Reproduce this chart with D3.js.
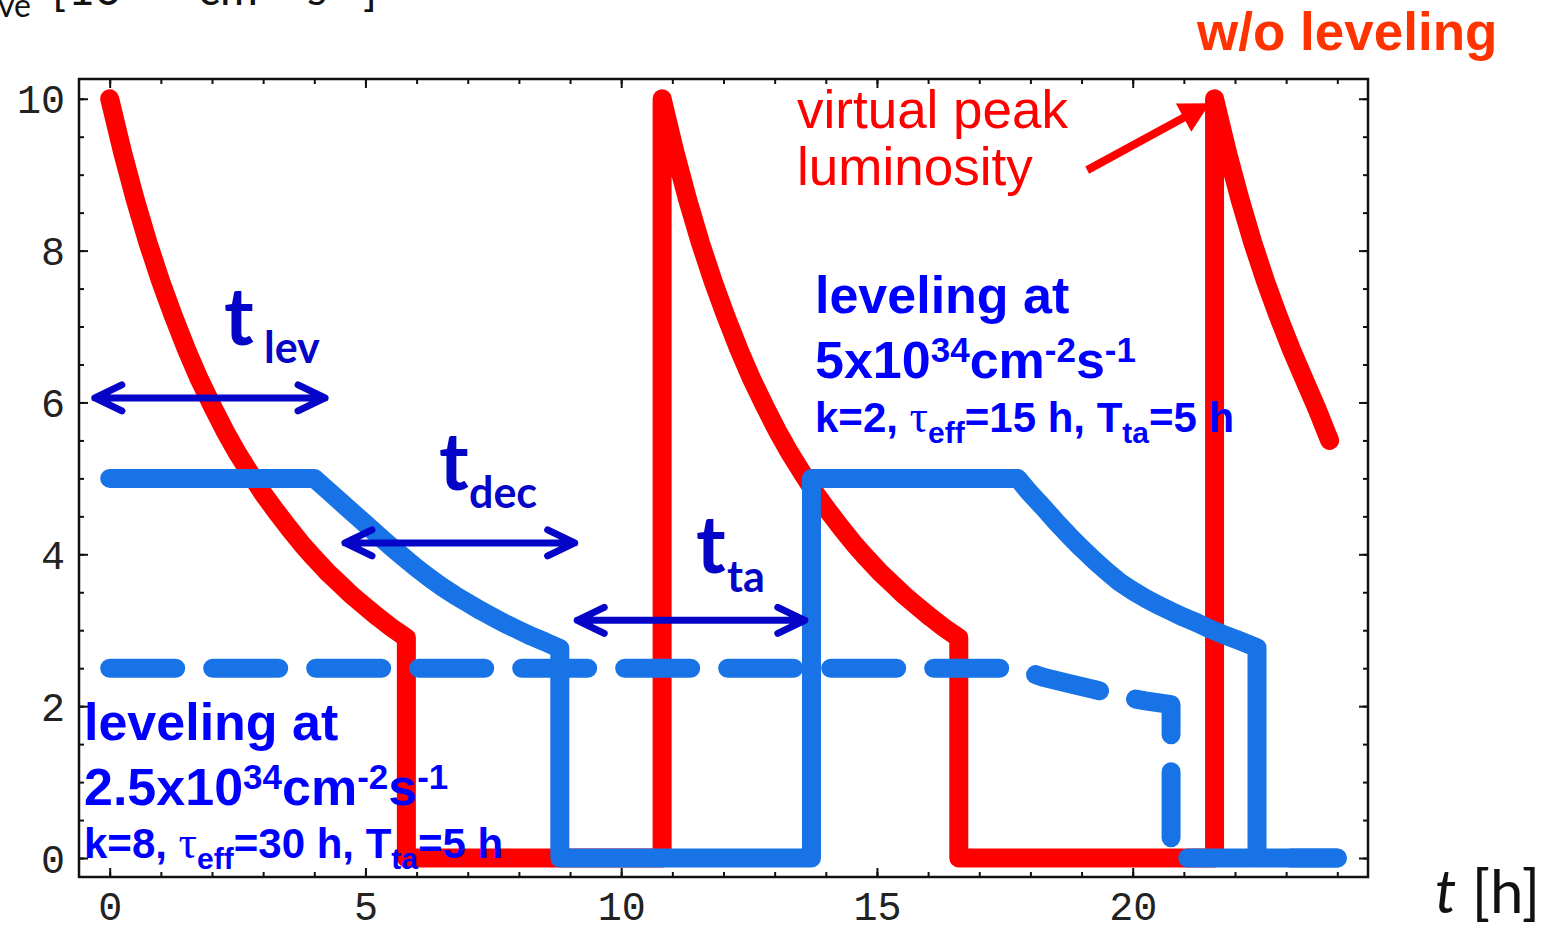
<!DOCTYPE html>
<html><head><meta charset="utf-8">
<script src="https://cdn.jsdelivr.net/npm/d3@7"></script>
<style>body{margin:0;background:#fff;} svg{display:block;}</style>
</head><body>
<svg id="c" width="1548" height="926"></svg>
<script>
// ---- data (t in hours, L in 1e34 cm^-2 s^-1) ----
const noLeveling = [
  [0,10],[0.25,9.30],[0.5,8.67],[0.75,8.10],[1,7.59],[1.25,7.13],[1.5,6.70],[1.75,6.31],[2,5.96],[2.25,5.63],[2.5,5.33],[2.75,5.06],
  [3,4.80],[3.25,4.57],[3.5,4.35],[3.75,4.14],[4,3.95],[4.25,3.77],[4.5,3.61],[4.75,3.45],[5,3.31],[5.25,3.17],[5.5,3.04],[5.8,2.90],[5.8,0],
  [10.8,0],[10.8,10],[11.05,9.30],[11.3,8.67],[11.55,8.10],[11.8,7.59],[12.05,7.13],[12.3,6.70],[12.55,6.31],[12.8,5.96],[13.05,5.63],[13.3,5.33],[13.55,5.06],
  [13.8,4.80],[14.05,4.57],[14.3,4.35],[14.55,4.14],[14.8,3.95],[15.05,3.77],[15.3,3.61],[15.55,3.45],[15.8,3.31],[16.05,3.17],[16.3,3.04],[16.6,2.90],[16.6,0],
  [21.6,0],[21.6,10],[21.85,9.30],[22.1,8.67],[22.35,8.10],[22.6,7.59],[22.85,7.13],[23.1,6.70],[23.35,6.31],[23.6,5.92],[23.85,5.5]
];
const leveling5 = [
  [0,5],[4,5],[4.25,4.85],[4.5,4.7],[4.75,4.55],[5,4.4],[5.25,4.25],[5.5,4.1],[5.75,3.96],[6,3.82],[6.25,3.69],[6.5,3.57],[6.75,3.46],
  [7,3.36],[7.25,3.26],[7.5,3.17],[7.75,3.08],[8,3.0],[8.25,2.92],[8.5,2.85],[8.8,2.76],[8.8,0],
  [13.72,0],[13.72,5],[17.75,5],[18,4.8],[18.25,4.62],[18.5,4.43],[18.75,4.25],[19,4.08],[19.25,3.92],[19.5,3.77],[19.75,3.63],
  [20,3.52],[20.25,3.42],[20.5,3.33],[20.75,3.25],[21,3.17],[21.25,3.1],[21.5,3.02],[21.75,2.95],[22.1,2.86],[22.43,2.77],[22.43,0],[24,0]
];
const leveling25 = [
  [0,2.5],[17.75,2.5],[18.25,2.38],[18.75,2.3],[19.25,2.22],[19.75,2.13],[20.25,2.07],[20.75,2.02],[20.75,0],[24,0]
];
const xMajorTicks = [0,5,10,15,20];
const xMinorTicks = [0,1,2,3,4,5,6,7,8,9,10,11,12,13,14,15,16,17,18,19,20,21,22,23,24];
const yMajorTicks = [0,2,4,6,8,10];
const yMinorTicks = [0,0.5,1,1.5,2,2.5,3,3.5,4,4.5,5,5.5,6,6.5,7,7.5,8,8.5,9,9.5,10];
// annotation arrows in data units: [t0, t1, L]
const spanArrows = [[-0.29,4.21,6.06],[4.6,9.09,4.15],[9.14,13.59,3.13]];
const peakArrow = [[19.11,9.06],[21.51,9.94]];

const svg = d3.select("#c");
const x = d3.scaleLinear().domain([-0.6,24.6]).range([79,1368]);
const y = d3.scaleLinear().domain([-0.25,10.26]).range([877,79]);

// ---- axes ticks (inward, all four sides) ----
function ax(gen, tr, vals, size, fmt){
  const g = svg.append("g").attr("transform", tr)
    .call(gen.tickValues(vals).tickSizeInner(-size).tickSizeOuter(0).tickFormat(fmt||""));
  g.select(".domain").remove();
  g.selectAll(".tick line").attr("stroke","#111").attr("stroke-width",2);
  return g;
}
ax(d3.axisBottom(x),"translate(0,877)",xMinorTicks,5);
ax(d3.axisTop(x),"translate(0,79)",xMinorTicks,5);
ax(d3.axisLeft(y),"translate(79,0)",yMinorTicks,5);
ax(d3.axisRight(y),"translate(1368,0)",yMinorTicks,5);
ax(d3.axisTop(x),"translate(0,79)",xMajorTicks,9);
ax(d3.axisRight(y),"translate(1368,0)",yMajorTicks,9);
const gb = ax(d3.axisBottom(x),"translate(0,877)",xMajorTicks,9,d3.format("d"));
gb.selectAll(".tick text").attr("y",43).attr("dy",null)
  .attr("font-family","'Liberation Mono', 'DejaVu Sans Mono', monospace").attr("font-size",40).attr("fill","#222");
const gl = ax(d3.axisLeft(y),"translate(79,0)",yMajorTicks,9,d3.format("d"));
gl.selectAll(".tick text").attr("x",-14).attr("y",14).attr("dy",null)
  .attr("font-family","'Liberation Mono', 'DejaVu Sans Mono', monospace").attr("font-size",40).attr("fill","#222");

svg.append("rect").attr("x",79).attr("y",79).attr("width",1368-79).attr("height",877-79)
  .attr("fill","none").attr("stroke","#111").attr("stroke-width",2.5);

// ---- curves ----
const line = d3.line().x(d=>x(d[0])).y(d=>y(d[1]));
svg.append("path").attr("d",line(noLeveling)).attr("fill","none").attr("stroke","#ff0000")
  .attr("stroke-width",19).attr("stroke-linejoin","round").attr("stroke-linecap","round");
svg.append("path").attr("d",line(leveling5)).attr("fill","none").attr("stroke","#1874e6")
  .attr("stroke-width",19).attr("stroke-linejoin","round").attr("stroke-linecap","round");
svg.append("path").attr("d",line(leveling25)).attr("fill","none").attr("stroke","#1874e6")
  .attr("stroke-width",19).attr("stroke-linejoin","round").attr("stroke-linecap","round")
  .attr("stroke-dasharray","66 37");

// ---- span arrows ----
const arrowCol = "#0505c8";
spanArrows.forEach(a=>{
  const x0=x(a[0]), x1=x(a[1]), yy=y(a[2]);
  const p = d3.path();
  p.moveTo(x0,yy); p.lineTo(x1,yy);
  p.moveTo(x0+27,yy-13); p.lineTo(x0,yy); p.lineTo(x0+27,yy+13);
  p.moveTo(x1-27,yy-13); p.lineTo(x1,yy); p.lineTo(x1-27,yy+13);
  svg.append("path").attr("d",p.toString()).attr("fill","none").attr("stroke",arrowCol)
    .attr("stroke-width",7).attr("stroke-linecap","round").attr("stroke-linejoin","round");
});

// red arrow to virtual peak
{
  const tx=x(peakArrow[0][0]), ty=y(peakArrow[0][1]);
  const hx=x(peakArrow[1][0]), hy=y(peakArrow[1][1]);
  const dx=hx-tx, dy=hy-ty, len=Math.hypot(dx,dy), ux=dx/len, uy=dy/len;
  const hl=30, hw=16;
  const bx=hx-ux*hl, by=hy-uy*hl;
  svg.append("line").attr("x1",tx).attr("y1",ty).attr("x2",bx+ux*4).attr("y2",by+uy*4)
    .attr("stroke","#ff0000").attr("stroke-width",8);
  svg.append("path").attr("d",`M${hx},${hy}L${bx-uy*hw},${by+ux*hw}L${bx+uy*hw},${by-ux*hw}Z`).attr("fill","#ff0000");
}

// ---- texts ----
const sans = "'Liberation Sans', Arial, sans-serif";
const cal = "Lato, 'Open Sans', sans-serif";

// y-axis title (mostly cut off at top)
svg.append("text").attr("x",31).attr("y",17).attr("text-anchor","end")
  .attr("font-family",cal).attr("font-size",32).attr("fill","#111").text("ave");
{
  const t = svg.append("text").attr("y",5).attr("font-family",cal).attr("font-size",46).attr("fill","#111");
  t.append("tspan").attr("x",52).text("[");
  t.append("tspan").attr("x",68).text("10");
  t.append("tspan").attr("x",128).attr("font-size",30).attr("dy",-18).text("34");
  t.append("tspan").attr("x",198).attr("dy",18).text("cm");
  t.append("tspan").attr("x",264).attr("font-size",30).attr("dy",-18).text("-2");
  t.append("tspan").attr("x",307).attr("dy",18).text("s");
  t.append("tspan").attr("x",330).attr("font-size",30).attr("dy",-18).text("-1");
  t.append("tspan").attr("x",363).attr("dy",18).text("]");
}

// w/o leveling
svg.append("text").attr("x",1197).attr("y",50).attr("font-family",sans).attr("font-weight","bold")
  .attr("font-size",53).attr("fill","#ff3300").text("w/o leveling");

// virtual peak luminosity
svg.append("text").attr("x",797).attr("y",128).attr("font-family",sans).attr("font-size",53).attr("fill","#ff0000").text("virtual peak");
svg.append("text").attr("x",797).attr("y",185).attr("font-family",sans).attr("font-size",53).attr("fill","#ff0000").text("luminosity");

// leveling blocks
function levelBlock(x0, y1, y2, y3, lev, k, tau){
  svg.append("text").attr("x",x0).attr("y",y1).attr("font-family",sans).attr("font-weight","bold")
    .attr("font-size",52).attr("fill","#0000ff").text("leveling at");
  const t2 = svg.append("text").attr("x",x0).attr("y",y2).attr("font-family",sans).attr("font-weight","bold")
    .attr("font-size",52).attr("fill","#0000ff");
  t2.append("tspan").text(lev+"x10");
  t2.append("tspan").attr("font-size",35).attr("dy",-16).text("34");
  t2.append("tspan").attr("dy",16).text("cm");
  t2.append("tspan").attr("font-size",35).attr("dy",-16).text("-2");
  t2.append("tspan").attr("dy",16).text("s");
  t2.append("tspan").attr("font-size",35).attr("dy",-16).text("-1");
  const t3 = svg.append("text").attr("x",x0).attr("y",y3).attr("font-family",sans).attr("font-weight","bold")
    .attr("font-size",42).attr("fill","#0000ff");
  t3.append("tspan").text("k="+k+", ");
  t3.append("tspan").attr("font-family","'Liberation Serif', serif").attr("font-weight","normal").attr("font-size",46).text("τ");
  t3.append("tspan").attr("font-size",30).attr("dy",11).text("eff");
  t3.append("tspan").attr("dy",-11).text("="+tau+" h, T");
  t3.append("tspan").attr("font-size",30).attr("dy",11).text("ta");
  t3.append("tspan").attr("dy",-11).text("=5 h");
}
levelBlock(815,313,378,432,"5","2","15");
levelBlock(84,740,805,858,"2.5","8","30");

// t_lev, t_dec, t_ta labels
function tLabel(xt, yt, xs, ys, sub){
  svg.append("text").attr("x",xt).attr("y",yt).attr("font-family",cal).attr("font-weight","bold")
    .attr("font-size",80).attr("fill",arrowCol).text("t");
  svg.append("text").attr("x",xs).attr("y",ys).attr("font-family",cal).attr("font-weight","bold")
    .attr("font-size",43).attr("fill",arrowCol).text(sub);
}
tLabel(224,345,264,363,"lev");
tLabel(439,490,469,508,"dec");
tLabel(696,573,727,592,"ta");

// x-axis title
{
  const t = svg.append("text").attr("x",1435).attr("y",913).attr("font-family",cal).attr("font-size",60).attr("fill","#111");
  t.append("tspan").attr("font-style","italic").text("t");
  t.append("tspan").text(" [h]");
}
</script>
</body></html>
